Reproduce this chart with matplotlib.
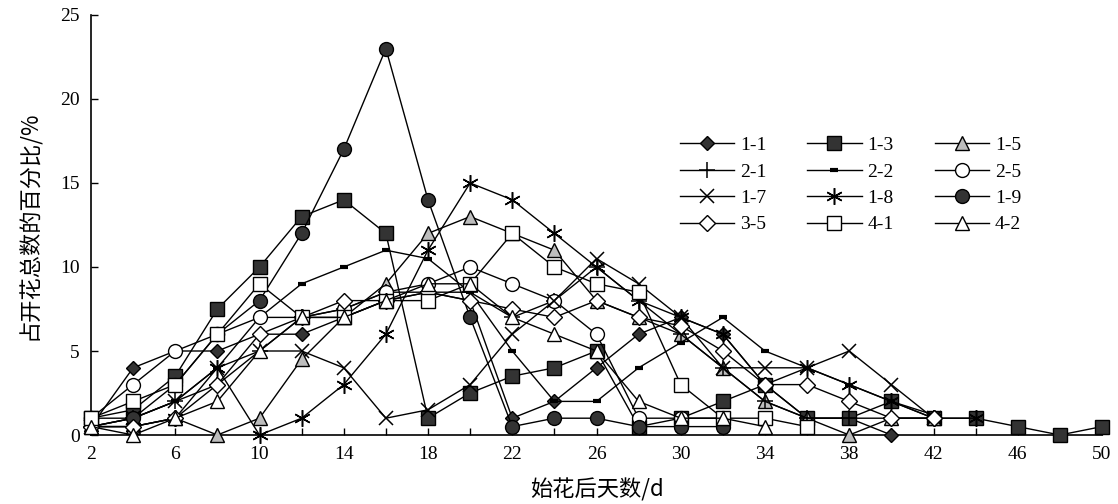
import matplotlib
matplotlib.use("Agg")
import matplotlib.pyplot as plt

days = [2, 4, 6, 8, 10, 12, 14, 16, 18, 20, 22, 24, 26, 28, 30, 32, 34, 36, 38, 40, 42, 44, 46, 48, 50]

s_1_1 = [0.5, 4, 5, 5, 6, 6, 7, 8, 8.5, 8, 1, 2, 4, 6, 7, 6, 3, 1, 1, 0]
s_1_3 = [1, 1.5, 3.5, 7.5, 10, 13, 14, 12, 1, 2.5, 3.5, 4, 5, 0.5, 1, 2, 3, 1, 1, 2, 1, 1, 0.5, 0, 0.5]
s_1_5 = [0.5, 0.5, 1, 0, 1, 4.5, 7, 9, 12, 13, 12, 11, 8, 7, 6, 4, 2, 1, 0, 1, 1]
s_2_1 = [0.5, 1, 2, 3, 5, 7, 7.5, 8.5, 8.5, 8.5, 7, 8, 10, 8, 6, 4, 2, 1, 1, 1, 1]
s_2_2 = [0.5, 1, 2, 4, 7, 9, 10, 11, 10.5, 8.5, 5, 2, 2, 4, 5.5, 7, 5, 4, 3, 2, 1.2]
s_2_5 = [1, 3, 5, 6, 7, 7, 7.5, 8.5, 9, 10, 9, 8, 6, 1, 1, 1]
s_1_7 = [0.5, 1, 2, 4, 5, 5, 4, 1, 1.5, 3, 6, 8, 10.5, 9, 7, 4, 4, 4, 5, 3, 1]
s_1_8 = [0.5, 0.5, 1, 4, 0, 1, 3, 6, 11, 15, 14, 12, 10, 8, 7, 6, 3, 4, 3, 2, 1, 1]
s_1_9 = [1, 1, 3, 6, 8, 12, 17, 23, 14, 7, 0.5, 1, 1, 0.5, 0.5, 0.5]
s_3_5 = [0.5, 0.5, 1, 3, 6, 7, 8, 8, 8.5, 8, 7.5, 7, 8, 7, 6.5, 5, 3, 3, 2, 1, 1]
s_4_1 = [1, 2, 3, 6, 9, 7, 7, 8, 8, 9, 12, 10, 9, 8.5, 3, 1, 1, 0.5]
s_4_2 = [0.5, 0, 1, 2, 5, 7, 7, 8, 9, 9, 7, 6, 5, 2, 1, 1, 0.5]

labels = ["1-1", "1-3", "1-5", "2-1", "2-2", "2-5", "1-7", "1-8", "1-9", "3-5", "4-1", "4-2"]
series = [s_1_1, s_1_3, s_1_5, s_2_1, s_2_2, s_2_5, s_1_7, s_1_8, s_1_9, s_3_5, s_4_1, s_4_2]

dark = "#333333"
grey = "#bdbdbd"
styles = {
    "1-1": dict(marker="D", mfc=dark, mec="black", ms=7),
    "1-3": dict(marker="s", mfc=dark, mec="black", ms=10),
    "1-5": dict(marker="^", mfc=grey, mec="black", ms=10),
    "2-1": dict(marker="+", mfc="black", mec="black", ms=12, mew=1.1),
    "2-2": dict(marker="_", mfc="black", mec="black", ms=6, mew=3),
    "2-5": dict(marker="o", mfc="white", mec="black", ms=10),
    "1-7": dict(marker="x", mfc="black", mec="black", ms=10, mew=1.1),
    "1-8": dict(marker=(6, 2, 0), mfc="black", mec="black", ms=12, mew=1.1),
    "1-9": dict(marker="o", mfc=dark, mec="black", ms=10),
    "3-5": dict(marker="D", mfc="white", mec="black", ms=8),
    "4-1": dict(marker="s", mfc="white", mec="black", ms=10),
    "4-2": dict(marker="^", mfc="white", mec="black", ms=10),
}

serif = ["Liberation Serif", "DejaVu Serif"]
cjk = ["Noto Sans CJK SC", "DejaVu Sans"]

fig = plt.figure(figsize=(11.18, 5.04), dpi=100)
ax = fig.add_axes([91 / 1118, 69 / 504, (1102 - 91) / 1118, (435 - 15) / 504])

handles = {}
for lab, vals in zip(labels, series):
    st = dict(styles[lab])
    mew = st.pop("mew", 1.0)
    h, = ax.plot(days[:len(vals)], vals, color="black", lw=1.0, mew=mew,
                 clip_on=False, label=lab, zorder=3, **st)
    handles[lab] = h

ax.set_xlim(2, 50)
ax.set_ylim(0, 25)
ax.spines["top"].set_visible(False)
ax.spines["right"].set_visible(False)
ax.spines["left"].set_linewidth(1.2)
ax.spines["bottom"].set_linewidth(1.2)

ax.set_xticks(days)
ax.set_xticklabels([str(d) if (d - 2) % 4 == 0 else "" for d in days], family=serif, fontsize=14)
ax.set_yticks([0, 5, 10, 15, 20, 25])
ax.set_yticklabels(["0", "5", "10", "15", "20", "25"], family=serif, fontsize=14)
ax.tick_params(axis="both", direction="in", length=5, width=1.0, pad=8)

ax.set_xlabel("始花后天数/d", family=cjk, fontsize=16, labelpad=11)
ax.set_ylabel("占开花总数的百分比/%", family=cjk, fontsize=16, labelpad=14)

order = ["1-1", "2-1", "1-7", "3-5", "1-3", "2-2", "1-8", "4-1", "1-5", "2-5", "1-9", "4-2"]
leg = ax.legend([handles[k] for k in order], order, ncol=3, frameon=False,
                loc="upper left", bbox_to_anchor=(0.565, 0.752),
                handlelength=2.8, columnspacing=2.1, labelspacing=0.45,
                prop={"family": serif, "size": 14}, handletextpad=0.3)

fig.savefig("out.png", dpi=100)
